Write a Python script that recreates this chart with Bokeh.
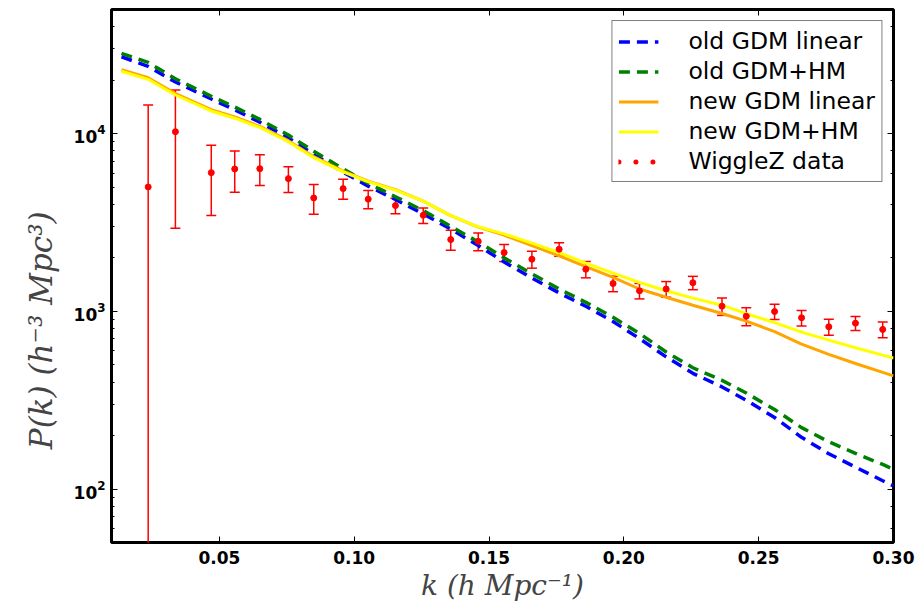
import numpy as np
from bokeh.plotting import figure
from bokeh.models import (ColumnDataSource, Whisker, TeeHead, LinearAxis, LogAxis,
                          Legend, LegendItem, FixedTicker, NumeralTickFormatter, LogTicker,
                          CustomJSTickFormatter)
from bokeh.embed import file_html
from bokeh.resources import INLINE

# ---- data ----
k_model = [0.0137, 0.0236, 0.0337, 0.047, 0.0557, 0.065, 0.0756, 0.085, 0.0959, 0.1052,
           0.1153, 0.1256, 0.1358, 0.146, 0.1556, 0.1659, 0.176, 0.1859, 0.196, 0.2058,
           0.2157, 0.2256, 0.2364, 0.2454, 0.2559, 0.2659, 0.276, 0.2859, 0.296, 0.30]
pk_old_linear = [27100, 23900, 19530, 15670, 13640, 11610, 9483, 7640, 6074, 5069,
                 4261, 3531, 2908, 2346, 1897, 1540, 1270, 1068, 876, 703,
                 554, 448, 375.5, 316, 252.7, 195.5, 157.9, 132.9, 111.3, 104.2]
pk_old_hm = [28350, 25170, 20380, 16250, 14130, 12030, 9820, 7971, 6332, 5254,
             4418, 3690, 3012, 2458, 2000, 1626, 1337.6, 1124, 926, 750.7,
             590.7, 481.5, 409.0, 347.0, 280.3, 221.7, 184.5, 158.7, 137.5, 129.1]
pk_new_linear = [22900, 20650, 16830, 13640, 12410, 10990, 9133, 7425, 6153, 5406,
                 4843, 4174, 3459, 2981, 2688, 2346, 2052, 1787, 1554, 1336,
                 1201, 1083, 972.5, 881.3, 768.4, 653.6, 572.0, 508.9, 453.2, 433.0]
pk_new_hm = [22460, 20230, 16510, 13420, 12220, 10840, 9004, 7330, 6090, 5364,
             4812, 4174, 3459, 2992, 2730, 2423, 2142, 1868, 1643, 1453,
             1307, 1187, 1083, 970, 864.6, 763.4, 688.5, 623.8, 566.9, 546.7]

k_data = [0.0236, 0.0337, 0.047, 0.0557, 0.065, 0.0756, 0.085, 0.0959, 0.1052, 0.1153,
          0.1256, 0.1358, 0.146, 0.1556, 0.1659, 0.176, 0.1859, 0.196, 0.2058, 0.2157,
          0.2256, 0.2364, 0.2454, 0.2559, 0.2659, 0.276, 0.2859, 0.296]
pk_data = [5012, 10262, 6036, 6330, 6355, 5585, 4350, 4907, 4282, 3937,
           3473, 2535, 2480, 2142, 1965, 2236, 1726, 1434, 1305, 1336,
           1449, 1069, 939, 998, 920, 819, 858, 791]
pk_err = [9490, 7330, 2570, 1650, 1250, 920, 830, 630, 500, 390,
          350, 330, 285, 235, 215, 195, 182, 144, 130, 135,
          125, 120, 109, 97, 92, 85, 77, 81]

legend_labels = ["old GDM linear", "old GDM+HM", "new GDM linear", "new GDM+HM", "WiggleZ data"]
x_ticks = [0.05, 0.10, 0.15, 0.20, 0.25, 0.30]

# ---- figure ----
p = figure(width=924, height=609, y_axis_type="log",
           x_range=(0.01, 0.30), y_range=(50, 5e4),
           output_backend="svg", toolbar_location=None,
           min_border_left=111, min_border_right=31, min_border_top=9, min_border_bottom=67,
           background_fill_color="white", border_fill_color="white")
p.grid.visible = False
p.outline_line_color = "black"
p.outline_line_width = 3

tick_font = "DejaVu Sans"
blank = CustomJSTickFormatter(code="return ''")

def style_axis(ax, labels=True):
    ax.axis_line_color = None
    ax.major_tick_in = 6
    ax.major_tick_out = 0
    ax.minor_tick_in = 3
    ax.minor_tick_out = 0
    ax.major_tick_line_color = "black"
    ax.minor_tick_line_color = "black"
    if labels:
        ax.major_label_text_font = tick_font
        ax.major_label_text_font_style = "bold"
        ax.major_label_text_font_size = "17px"
        ax.major_label_text_color = "black"
    else:
        ax.formatter = blank
        ax.major_label_standoff = 0

p.xaxis.ticker = FixedTicker(ticks=x_ticks)
p.xaxis.formatter = NumeralTickFormatter(format="0.00")
style_axis(p.xaxis[0])
p.xaxis.minor_tick_line_color = None
p.xaxis.major_label_standoff = 8
p.xaxis.axis_label = "k (h Mpc⁻¹)"
p.xaxis.axis_label_text_font = "DejaVu Serif"
p.xaxis.axis_label_text_font_style = "italic"
p.xaxis.axis_label_text_font_size = "28px"
p.xaxis.axis_label_standoff = 2

style_axis(p.yaxis[0])
p.yaxis.major_label_standoff = 6
# trailing em/en spaces shift the visible label downward, as in the reference
p.yaxis.axis_label = "P(k) (h⁻³ Mpc³)\u2003\u2003\u2003\u2002"
p.yaxis.axis_label_text_font = "DejaVu Serif"
p.yaxis.axis_label_text_font_style = "italic"
p.yaxis.axis_label_text_font_size = "31px"
p.yaxis.axis_label_standoff = 12

top = LinearAxis(ticker=FixedTicker(ticks=x_ticks))
style_axis(top, labels=False)
top.minor_tick_line_color = None
p.add_layout(top, "above")

right = LogAxis(ticker=LogTicker())
style_axis(right, labels=False)
p.add_layout(right, "right")

# ---- curves ----
dash = "11 7"
r1 = p.line(k_model, pk_old_linear, line_color="#0000ff", line_width=3.5, line_dash=dash)
r2 = p.line(k_model, pk_old_hm, line_color="#008000", line_width=3.5, line_dash=dash)
r3 = p.line(k_model, pk_new_linear, line_color="#ffa500", line_width=3)
r4 = p.line(k_model, pk_new_hm, line_color="#ffff00", line_width=3)

# ---- data with error bars ----
kd = np.array(k_data)
pd_ = np.array(pk_data, dtype=float)
er = np.array(pk_err, dtype=float)
lower = np.where(pd_ - er > 0, pd_ - er, 1e-3)
src = ColumnDataSource(dict(k=kd, p=pd_, upper=pd_ + er, lower=lower))
wh = Whisker(base="k", upper="upper", lower="lower", dimension="height", source=src,
             line_color="red", line_width=1.5,
             upper_head=TeeHead(size=10, line_color="red", line_width=1.5),
             lower_head=TeeHead(size=10, line_color="red", line_width=1.5))
p.add_layout(wh)
r_pts = p.scatter("k", "p", source=src, size=6, color="red")

# legend proxy showing three dots (no data drawn in the plot)
r5 = p.line(x=[np.nan], y=[np.nan], line_color="red", line_width=5, line_dash="0 17", line_cap="round")

legend = Legend(items=[LegendItem(label=legend_labels[0], renderers=[r1]),
                       LegendItem(label=legend_labels[1], renderers=[r2]),
                       LegendItem(label=legend_labels[2], renderers=[r3]),
                       LegendItem(label=legend_labels[3], renderers=[r4]),
                       LegendItem(label=legend_labels[4], renderers=[r5])],
                location="top_right", margin=11, padding=6, spacing=2,
                glyph_width=40, glyph_height=27, label_height=27, label_standoff=30,
                label_text_font="DejaVu Sans", label_text_font_size="23.5px",
                label_text_color="black",
                border_line_color="black", border_line_width=1.5,
                background_fill_color="white", background_fill_alpha=1.0)
p.add_layout(legend)

open("out.html", "w").write(file_html(p, INLINE))
